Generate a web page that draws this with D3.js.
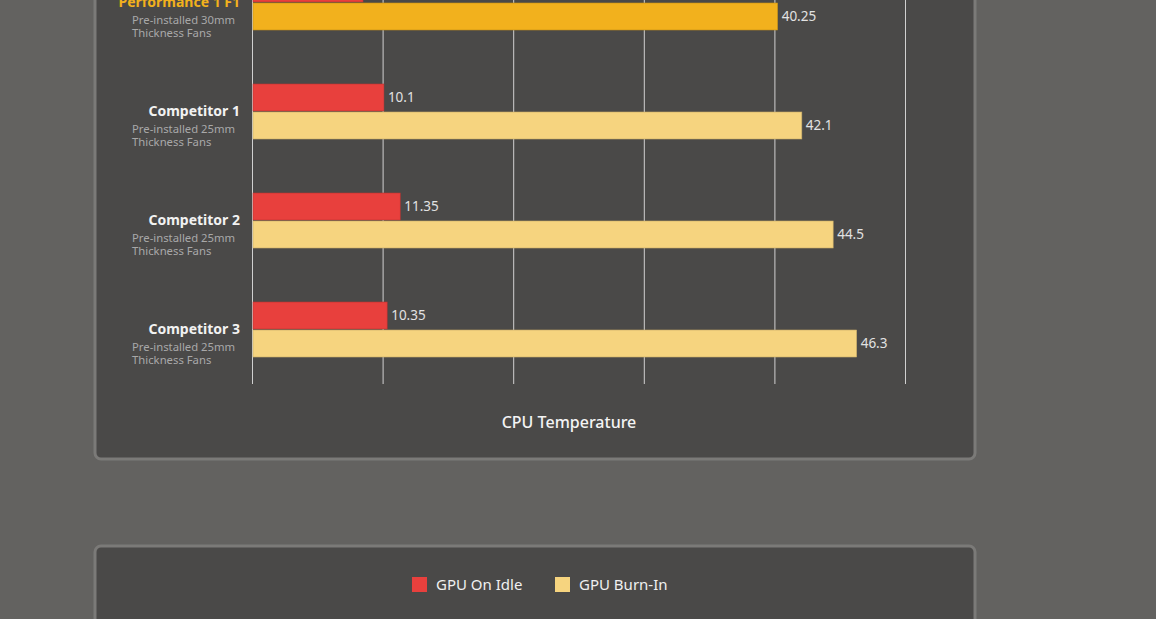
<!DOCTYPE html>
<html>
<head>
<meta charset="utf-8">
<script src="https://cdn.jsdelivr.net/npm/d3@7"></script>
<style>
  body { margin: 0; background: #636260; overflow: hidden; }
  text { font-family: "Noto Sans", "Open Sans", sans-serif; }
</style>
</head>
<body>
<script>
// data
var categories = ["Performance 1 F1", "Competitor 1", "Competitor 2", "Competitor 3"];
var subtitles = ["Pre-installed 30mm", "Pre-installed 25mm", "Pre-installed 25mm", "Pre-installed 25mm"];
var series = ["GPU On Idle", "GPU Burn-In"];
var idleValues = [8.5, 10.1, 11.35, 10.35];
var burnValues = [40.25, 42.1, 44.5, 46.3];
var xTicks = [0, 10, 20, 30, 40, 50];

var width = 1156, height = 619;
var svg = d3.select("body").append("svg")
    .attr("width", width)
    .attr("height", height);

// panels
svg.append("rect")
    .attr("x", 95).attr("y", -40)
    .attr("width", 880).attr("height", 499)
    .attr("rx", 6)
    .attr("fill", "#4a4948")
    .attr("stroke", "#7b7a78")
    .attr("stroke-width", 3);

svg.append("rect")
    .attr("x", 95).attr("y", 546)
    .attr("width", 880).attr("height", 120)
    .attr("rx", 6)
    .attr("fill", "#4a4948")
    .attr("stroke", "#7b7a78")
    .attr("stroke-width", 3);

var x = d3.scaleLinear()
    .domain([0, 50])
    .range([252, 905]);

var y = d3.scaleBand()
    .domain(categories)
    .range([-52, 384])
    .paddingInner(53 / 109)
    .paddingOuter(0.243);

var ySub = d3.scaleBand()
    .domain(series)
    .range([0, y.bandwidth()]);

// grid lines
svg.append("g")
    .selectAll("line")
    .data(xTicks)
    .enter()
    .append("line")
    .attr("x1", (d) => x(d) + 0.5)
    .attr("x2", (d) => x(d) + 0.5)
    .attr("y1", -10)
    .attr("y2", 384)
    .attr("stroke", "#d0d0d0")
    .attr("stroke-width", 1);

var rows = categories.map((c, i) => ({
    name: c, sub: subtitles[i], idle: idleValues[i], burn: burnValues[i], i: i
}));

var colors = {"GPU On Idle": "#e8403d", "GPU Burn-In": "#f6d47f"};

var groups = svg.selectAll(".row")
    .data(rows)
    .enter()
    .append("g")
    .attr("class", "row")
    .attr("transform", (d) => "translate(0," + y(d.name) + ")");

groups.each(function(d) {
    var g = d3.select(this);
    var vals = [{s: "GPU On Idle", v: d.idle}, {s: "GPU Burn-In", v: d.burn}];
    vals.forEach((b) => {
        var fill = colors[b.s];
        if (d.i === 0 && b.s === "GPU Burn-In") fill = "#f2b11d";
        g.append("rect")
            .attr("x", x(0) + 1)
            .attr("y", ySub(b.s) + 0.5)
            .attr("width", x(b.v) - x(0) - 1)
            .attr("height", ySub.bandwidth() - 1)
            .attr("fill", fill)
            .attr("stroke", d3.color(fill).darker(0.6))
            .attr("stroke-width", 0.6);
        g.append("text")
            .attr("x", x(b.v) + 4)
            .attr("y", ySub(b.s) + ySub.bandwidth() / 2)
            .attr("dy", "0.35em")
            .attr("font-size", "13.5px")
            .attr("fill", "#e2e2e2")
            .text(b.v);
    });

    var mid = y.bandwidth() / 2;
    g.append("text")
        .attr("x", 240)
        .attr("y", mid)
        .attr("dy", "0.35em")
        .attr("text-anchor", "end")
        .attr("font-size", "14px")
        .attr("font-weight", "bold")
        .attr("fill", d.i === 0 ? "#f2b11d" : "#f2f2f2")
        .text(d.name);
    g.append("text")
        .attr("x", 132)
        .attr("y", mid + 17.5)
        .attr("dy", "0.35em")
        .attr("font-size", "11.3px")
        .attr("fill", "#a8a8a8")
        .text(d.sub);
    g.append("text")
        .attr("x", 132)
        .attr("y", mid + 31)
        .attr("dy", "0.35em")
        .attr("font-size", "11.3px")
        .attr("fill", "#a8a8a8")
        .text("Thickness Fans");
});

// axis title
svg.append("text")
    .attr("x", 569)
    .attr("y", 422)
    .attr("dy", "0.35em")
    .attr("text-anchor", "middle")
    .attr("font-size", "16px")
    .attr("font-weight", "500")
    .attr("fill", "#f4f4f4")
    .text("CPU Temperature");

// legend
var legendX = [412, 555];
var legend = svg.selectAll(".legend")
    .data(series)
    .enter()
    .append("g")
    .attr("class", "legend")
    .attr("transform", (d, i) => "translate(" + legendX[i] + ",577)");
legend.append("rect")
    .attr("width", 15)
    .attr("height", 15)
    .attr("fill", (d) => colors[d]);
legend.append("text")
    .attr("x", 24)
    .attr("y", 8)
    .attr("dy", "0.35em")
    .attr("font-size", "15px")
    .attr("fill", "#f0f0f0")
    .text((d) => d);
</script>
</body>
</html>
